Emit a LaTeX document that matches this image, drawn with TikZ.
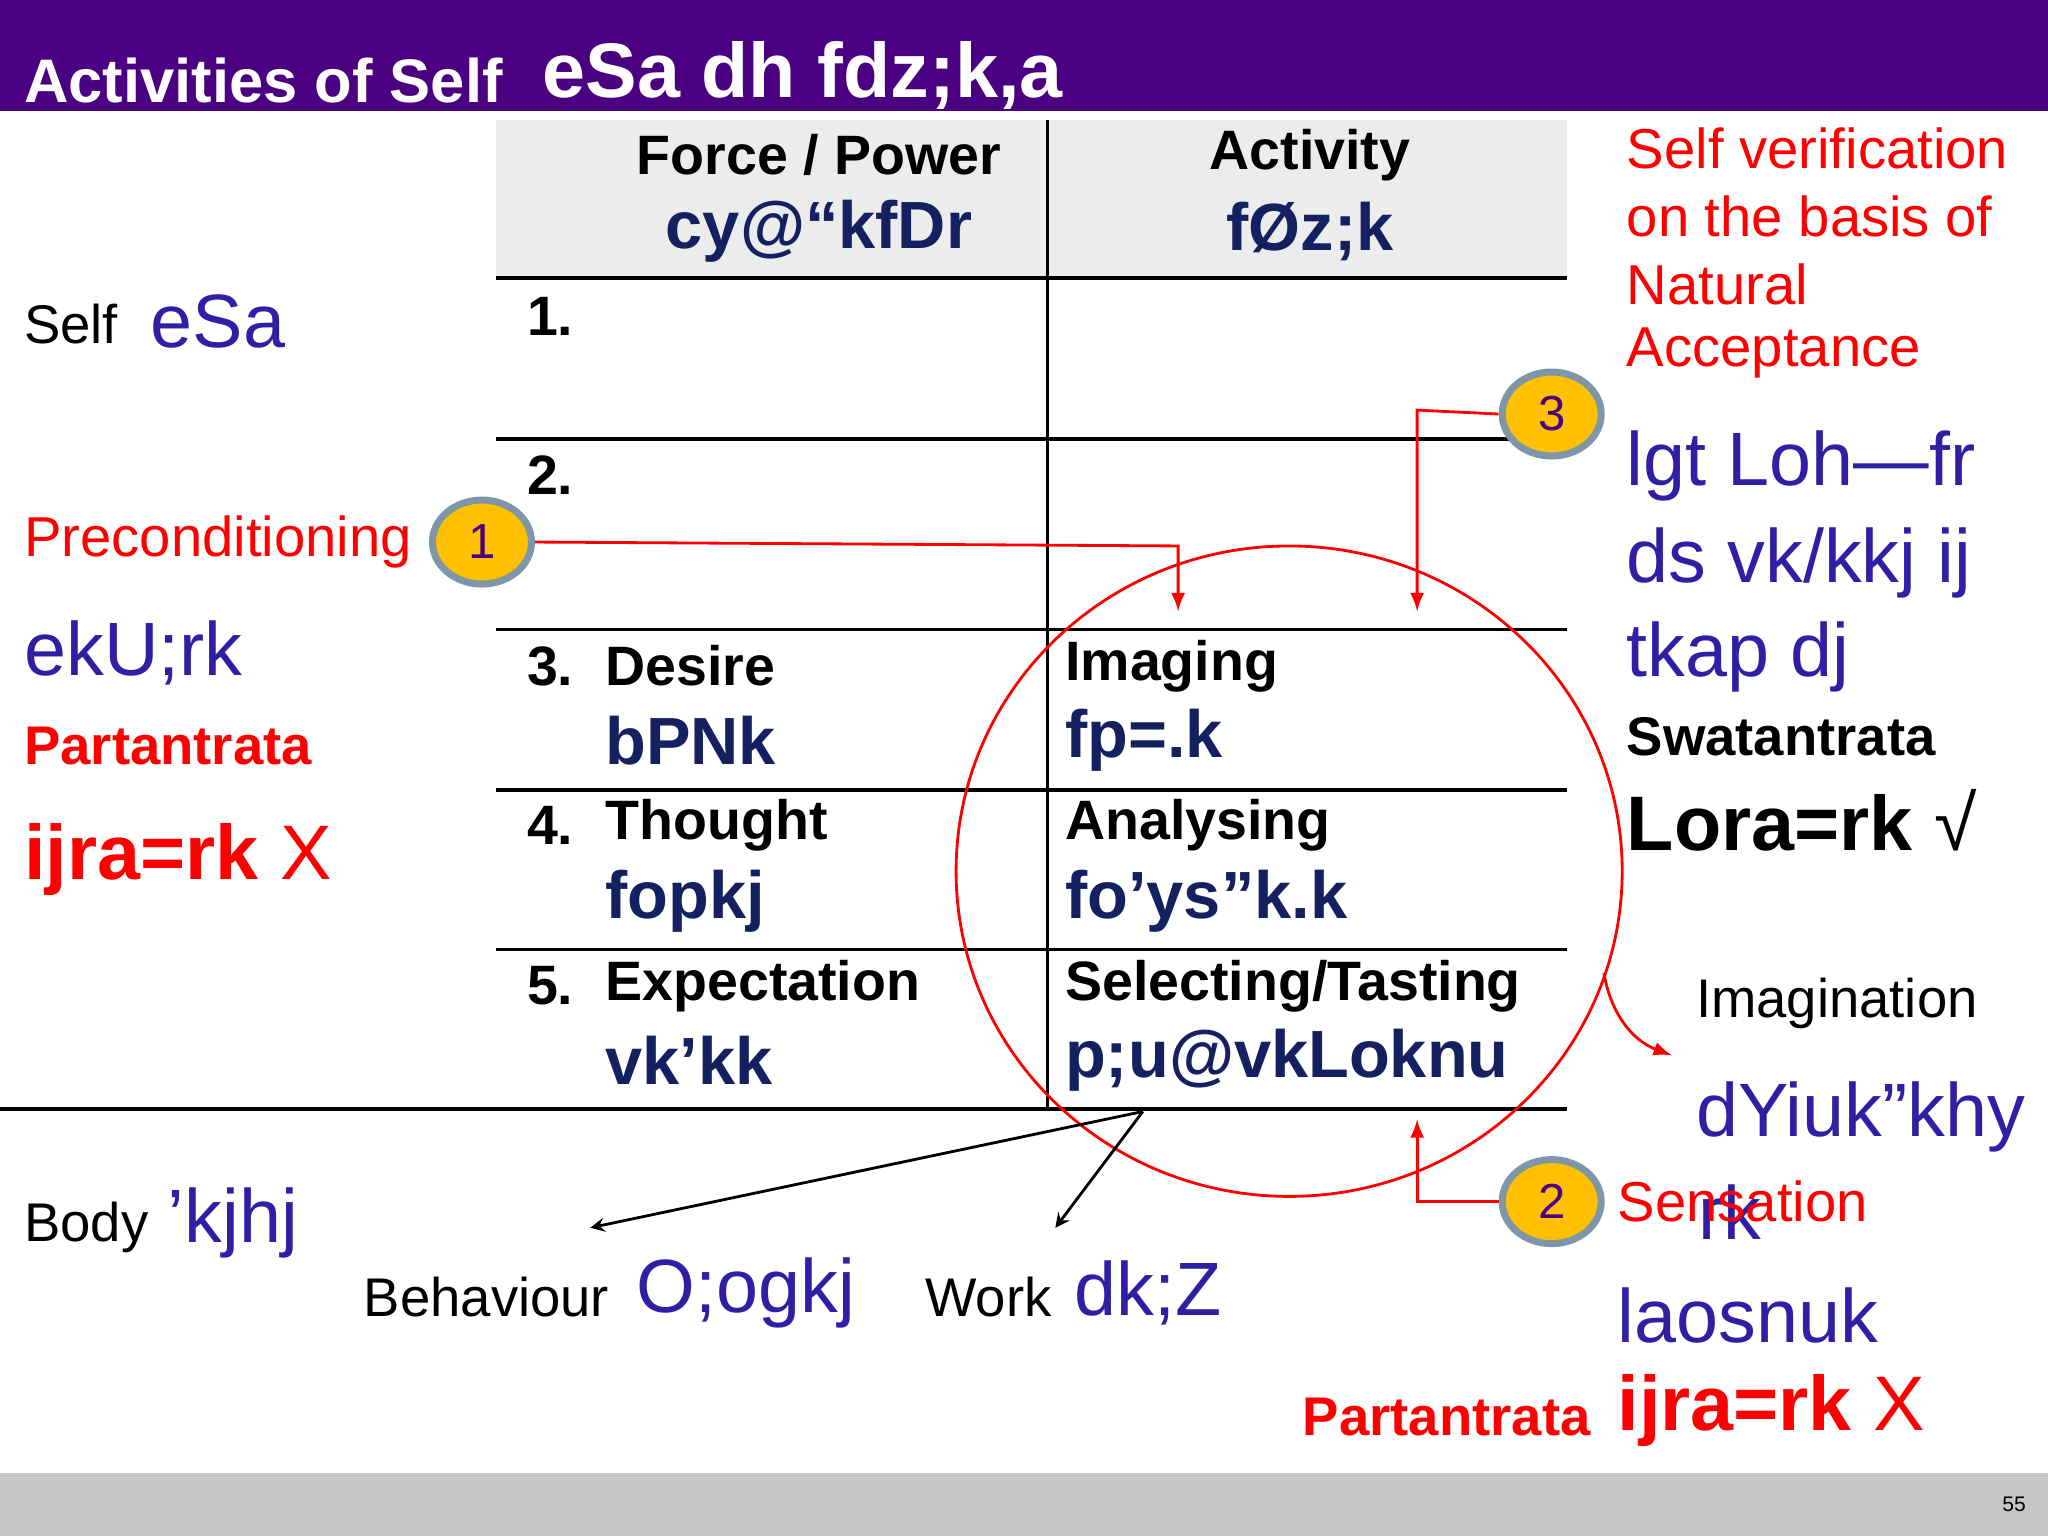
\documentclass[tikz,border=0pt]{standalone}
\usepackage{fontspec}
\usetikzlibrary{shapes.geometric}
\setmainfont{Liberation Sans}
\newcommand\fsz[1]{\fontsize{#1}{#1}\selectfont}
\newcommand\sq{\symbol{39}}
\newcommand\dq{\symbol{34}}
\definecolor{hdr}{HTML}{4B0082}
\definecolor{navy}{HTML}{142060}
\definecolor{kblue}{HTML}{2E1FA5}
\definecolor{ired}{HTML}{FF0000}
\definecolor{yel}{HTML}{FFC000}
\definecolor{ring}{HTML}{7F95A8}
\begin{document}
\begin{tikzpicture}[x=0.013061cm,y=-0.013061cm,
  t/.style={anchor=west,inner sep=0pt},
  hd/.style={inner sep=0pt,font=\fsz{15.8}\bfseries},
  rb/.style={t,font=\fsz{15.8}\bfseries},
  dv/.style={t,text=navy,font=\fsz{19}\bfseries},
  lbl/.style={t,font=\fsz{15.5}},
  blu/.style={t,text=kblue,font=\fsz{21.5}},
  redt/.style={t,text=ired,font=\fsz{16}},
  num/.style={ellipse,draw=ring,line width=2pt,fill=yel,minimum width=0.99cm,minimum height=0.84cm,inner sep=0pt,text=hdr,font=\fsz{14}},
  ra/.style={ired,line width=0.8pt,-latex}]
\useasboundingbox (0,0) rectangle (1568,1176);
\fill[hdr] (0,0) rectangle (1568,85);
\fill[gray!45] (0,1128) rectangle (1568,1176);
\node[t,text=white,font=\fsz{17.5}\bfseries] (title) at (18,62) {Activities of Self};
\node[t,text=white,font=\fsz{22}\bfseries] (titled) at (415,58) {eSa dh fdz;k,a};
\node[inner sep=0pt,font=\fsz{6}] (pg) at (1542,1152) {55};
% table
\fill[gray!15] (380,92) rectangle (1200,213);
\draw[line width=1pt] (802,92) -- (802,850);
\foreach \yy in {213,336,482,605,727,849} \draw[line width=1pt] (380,\yy) -- (1200,\yy);
\draw[line width=1pt] (0,849) -- (380,849);
\node[hd] (fp) at (627,119) {Force / Power};
\node[inner sep=0pt,text=navy,font=\fsz{19}\bfseries] (fpd) at (627,177) {cy@“kfDr};
\node[hd] (ac) at (1003,119) {Activity};
\node[inner sep=0pt,text=navy,font=\fsz{19}\bfseries] (acd) at (1003,177) {fØz;k};
\node[rb] (n1) at (403,242) {1.};
\node[rb] (n2) at (403,364) {2.};
\node[rb] (r3n) at (403,510) {3.};
\node[rb] (r3) at (463,510) {Desire};
\node[dv] (r3d) at (463,567) {bPNk};
\node[rb] (r4n) at (403,632) {4.};
\node[rb] (r4) at (463,632) {Thought};
\node[dv] (r4d) at (463,690) {fopkj};
\node[rb] (r5n) at (403,755) {5.};
\node[rb] (r5) at (463,755) {Expectation};
\node[dv] (r5d) at (463,812) {vk\sq kk};
\node[rb] (a3) at (815,510) {Imaging};
\node[dv] (a3d) at (815,567) {fp=.k};
\node[rb] (a4) at (815,632) {Analysing};
\node[dv] (a4d) at (815,690) {fo\sq ys\dq k.k};
\node[rb] (a5) at (815,755) {Selecting/Tasting};
\node[dv] (a5d) at (815,812) {p;u@vkLoknu};
% left
\node[lbl] (self) at (18,248) {Self};
\node[blu] (selfd) at (115,246) {eSa};
\node[redt] (pre) at (18,415) {Preconditioning};
\node[blu] (man) at (18,500) {ekU;rk};
\node[t,text=ired,font=\fsz{15.5}\bfseries] (part) at (18,571) {Partantrata};
\node[t,text=ired,font=\fsz{22}] (parl) at (18,658) {\textbf{ijra=rk} X};
\node[lbl] (body) at (18,940) {Body};
\node[blu] (bodyd) at (128,936) {\sq kjhj};
\node[lbl] (beh) at (278,993) {Behaviour};
\node[blu] (behd) at (487,990) {O;ogkj};
\node[lbl] (work) at (708,993) {Work};
\node[blu] (workd) at (822,990) {dk;Z};
% right
\node[redt] (sv1r) at (1245,114) {Self verification};
\node[redt] (sv2r) at (1245,166) {on the basis of};
\node[redt] (sv3r) at (1245,218) {Natural};
\node[redt] (sv4r) at (1245,270) {Acceptance};
\node[blu] (sv1) at (1245,357) {lgt Loh—fr};
\node[blu] (sv2) at (1245,431) {ds vk/kkj ij};
\node[blu] (sv3) at (1245,503) {tkap dj};
\node[t,font=\fsz{15.5}\bfseries] (sw) at (1245,564) {Swatantrata};
\node[t,font=\fsz{22}] (swd) at (1245,628) {\textbf{Lora=rk} √};
\node[lbl] (img) at (1298,768) {Imagination};
\node[blu] (imgd) at (1298,855) {dYiuk”khy};
\node[blu] (imgd2) at (1300,928) {rk};
\node[redt] (sen) at (1238,920) {Sensation};
\node[blu] (send) at (1238,1007) {laosnuk};
\node[t,text=ired,font=\fsz{15.5}\bfseries] (part2) at (997,1085) {Partantrata};
\node[t,text=ired,font=\fsz{22}] (parr) at (1238,1080) {\textbf{ijra=rk} X};
% circles
\node[num] (c1) at (369,415) {1};
\node[num] (c3) at (1188,317) {3};
\node[num] (c2) at (1188,920) {2};
\draw[ired,line width=0.8pt] (987,667) ellipse [x radius=255,y radius=249];
\coordinate (k1) at (902,418); \coordinate (e1) at (902,468);
\coordinate (k3) at (1085,314); \coordinate (e3) at (1085,468);
\coordinate (k2) at (1085,920); \coordinate (e2) at (1085,857);
\draw[ra] (c1.east) -- (k1) -- (e1);
\draw[ra] (c3.west) -- (k3) -- (e3);
\draw[ra] (c2.west) -- (k2) -- (e2);
\coordinate (cs) at (1228,745); \coordinate (ce) at (1280,808);
\draw[ra] (cs) to[bend right=30] (ce);
\coordinate (bo) at (875,851); \coordinate (be) at (452,940); \coordinate (we) at (808,940);
\draw[-stealth,line width=0.8pt] (bo) -- (be);
\draw[-stealth,line width=0.8pt] (bo) -- (we);
\end{tikzpicture}
\end{document}
